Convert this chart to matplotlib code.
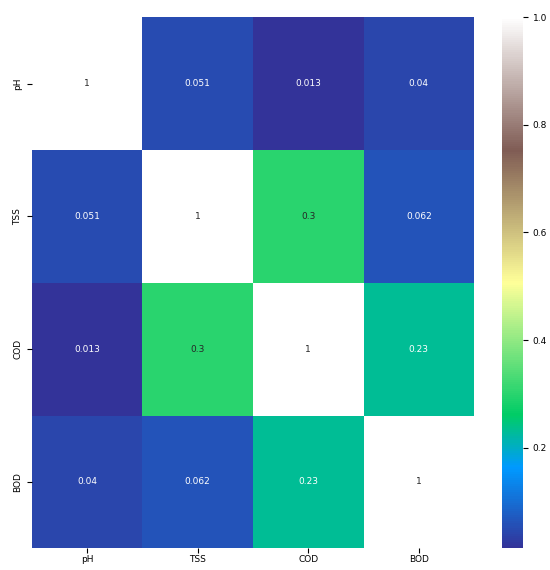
import matplotlib
matplotlib.use("Agg")
import matplotlib.pyplot as plt
import seaborn as sns
import numpy as np

labels = ["pH", "TSS", "COD", "BOD"]
row_ph = [1, 0.051, 0.013, 0.04]
row_tss = [0.051, 1, 0.3, 0.062]
row_cod = [0.013, 0.3, 1, 0.23]
row_bod = [0.04, 0.062, 0.23, 1]

corr = np.array([row_ph, row_tss, row_cod, row_bod])

fig = plt.figure(figsize=(5.5, 5.7), dpi=100)
ax = fig.add_axes([0.058, 0.038, 0.804, 0.932])
cax = fig.add_axes([0.913, 0.038, 0.038, 0.932])

sns.heatmap(corr, annot=True, cmap="terrain", ax=ax, cbar_ax=cax,
            xticklabels=labels, yticklabels=labels,
            annot_kws={"fontsize": 6.5})

ax.tick_params(labelsize=6.5)
ax.tick_params(axis="x", pad=1.5)
cax.tick_params(labelsize=6.5)
plt.setp(ax.get_yticklabels(), rotation=90, va="center")
plt.setp(ax.get_xticklabels(), rotation=0)

fig.savefig("out.png", dpi=100)
